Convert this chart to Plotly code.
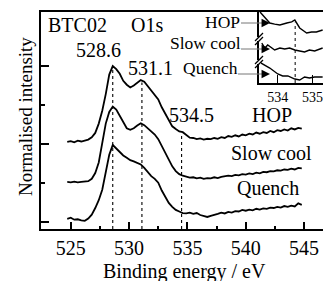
import plotly.graph_objects as go
import numpy as np

# ---------------- data ----------------
energy = [524.7, 525.0, 525.3, 525.6, 525.9, 526.2, 526.5, 526.8, 527.1, 527.4,
          527.7, 528.0, 528.3, 528.6, 528.9, 529.2, 529.5, 529.8, 530.1, 530.4,
          530.7, 531.0, 531.3, 531.6, 531.9, 532.2, 532.5, 532.8, 533.1, 533.4,
          533.7, 534.0, 534.3, 534.6, 534.9, 535.2, 535.5, 535.8, 536.1, 536.4,
          536.7, 537.0, 537.3, 537.6, 537.9, 538.2, 538.5, 538.8, 539.1, 539.4,
          539.7, 540.0, 540.3, 540.6, 540.9, 541.2, 541.5, 541.8, 542.1, 542.4,
          542.7, 543.0, 543.3, 543.6, 543.9, 544.2, 544.5, 544.8]

hop = [2.05, 2.07, 2.04, 2.08, 2.06, 2.09, 2.11, 2.17, 2.28, 2.52,
       2.85, 3.28, 3.78, 4.00, 3.92, 3.80, 3.62, 3.52, 3.45, 3.50,
       3.58, 3.64, 3.60, 3.48, 3.38, 3.25, 3.14, 2.94, 2.78, 2.60,
       2.45, 2.38, 2.32, 2.30, 2.22, 2.16, 2.15, 2.12, 2.14, 2.11,
       2.13, 2.12, 2.15, 2.13, 2.17, 2.15, 2.20, 2.18, 2.22, 2.19,
       2.24, 2.22, 2.26, 2.24, 2.29, 2.26, 2.30, 2.28, 2.33, 2.30,
       2.35, 2.33, 2.37, 2.34, 2.40, 2.37, 2.41, 2.39]

slow_cool = [1.02, 1.01, 1.03, 1.01, 1.02, 1.03, 1.04, 1.10, 1.25, 1.52,
             2.05, 2.52, 2.82, 2.96, 2.88, 2.72, 2.55, 2.40, 2.36, 2.40,
             2.47, 2.53, 2.48, 2.40, 2.33, 2.24, 2.12, 1.95, 1.78, 1.58,
             1.42, 1.30, 1.22, 1.18, 1.15, 1.13, 1.14, 1.11, 1.13, 1.10,
             1.12, 1.11, 1.14, 1.12, 1.15, 1.16, 1.18, 1.17, 1.20, 1.19,
             1.22, 1.21, 1.24, 1.22, 1.26, 1.24, 1.28, 1.27, 1.30, 1.29,
             1.32, 1.31, 1.34, 1.33, 1.36, 1.34, 1.38, 1.37]

quench = [0.07, 0.10, 0.05, 0.06, 0.03, 0.02, 0.08, 0.18, 0.35, 0.55,
          0.82, 1.30, 1.72, 1.97, 1.88, 1.78, 1.70, 1.64, 1.58, 1.55,
          1.52, 1.47, 1.38, 1.26, 1.17, 1.10, 1.00, 0.80, 0.62, 0.48,
          0.38, 0.30, 0.26, 0.22, 0.21, 0.23, 0.20, 0.22, 0.17, 0.15,
          0.12, 0.15, 0.17, 0.20, 0.23, 0.21, 0.25, 0.23, 0.27, 0.26,
          0.30, 0.28, 0.31, 0.29, 0.33, 0.31, 0.34, 0.33, 0.36, 0.35,
          0.38, 0.36, 0.40, 0.38, 0.41, 0.39, 0.47, 0.43]

peak_positions = [528.6, 531.1, 534.5]
peak_labels = ["528.6", "531.1", "534.5"]
x_tick_vals = [525, 530, 535, 540, 545]
x_tick_labels = ["525", "530", "535", "540", "545"]
series_names = ["HOP", "Slow cool", "Quench"]

# inset (zoom of 533.5 - 535.3 eV)
inset_hop_e = [533.49, 533.63, 533.77, 533.91, 534.06, 534.26, 534.40, 534.49, 534.63, 534.83, 534.97, 535.11, 535.29]
inset_hop_y = [1.00, 0.915, 0.845, 0.83, 0.817, 0.845, 0.86, 0.887, 0.775, 0.704, 0.718, 0.718, 0.746]
inset_slow_e = [533.54, 533.63, 533.71, 533.80, 533.91, 534.06, 534.20, 534.34, 534.49, 534.63, 534.77, 534.91, 535.06, 535.29]
inset_slow_y = [0.563, 0.493, 0.535, 0.507, 0.465, 0.493, 0.479, 0.493, 0.465, 0.451, 0.437, 0.465, 0.451, 0.493]
inset_quench_e = [533.46, 533.63, 533.77, 534.00, 534.14, 534.29, 534.49, 534.63, 534.77, 534.91, 535.06, 535.29]
inset_quench_y = [0.296, 0.254, 0.211, 0.127, 0.099, 0.099, 0.056, 0.042, 0.085, 0.070, 0.085, 0.085]
inset_tick_vals = [534, 535]
inset_marker = 534.5

# ---------------- layout helpers (pixel -> paper) ----------------
L, R, T, B = 41, 323, 12, 229
W, H = 323, 281
def px(x):
    return (x - L) / (R - L)
def py(y):
    return (B - y) / (B - T)

FONT = "Liberation Serif"
fig = go.Figure()

line_style = dict(color="black", width=1.8)
for ys in (hop, slow_cool, quench):
    fig.add_trace(go.Scatter(x=energy, y=ys, mode="lines", line=line_style,
                             showlegend=False, hoverinfo="skip"))

# dotted peak markers (from HOP curve down to the axis)
for p in peak_positions:
    top = float(np.interp(p, energy, hop)) - 0.05
    fig.add_trace(go.Scatter(x=[p, p], y=[-0.19, top], mode="lines",
                             line=dict(color="black", width=1.1, dash="dot"),
                             showlegend=False, hoverinfo="skip"))

# inset traces
for e, v in ((inset_hop_e, inset_hop_y), (inset_slow_e, inset_slow_y), (inset_quench_e, inset_quench_y)):
    fig.add_trace(go.Scatter(x=e, y=v, mode="lines", line=dict(color="black", width=1.4),
                             xaxis="x2", yaxis="y2", showlegend=False, hoverinfo="skip"))
fig.add_trace(go.Scatter(x=[inset_marker, inset_marker], y=[0, 0.85], mode="lines",
                         line=dict(color="black", width=1, dash="dot"),
                         xaxis="x2", yaxis="y2", showlegend=False, hoverinfo="skip"))

fig.update_layout(
    width=W, height=H,
    margin=dict(l=L, r=W - R, t=T, b=H - B, autoexpand=False),
    plot_bgcolor="white", paper_bgcolor="white",
    font=dict(family=FONT, size=20, color="black"),
    xaxis=dict(range=[522.45, 546.62], showline=True, linecolor="black", linewidth=2,
               mirror=True, showgrid=False, zeroline=False, automargin=False,
               ticks="inside", ticklen=7, tickwidth=1.5, tickcolor="black",
               tickvals=x_tick_vals, ticktext=x_tick_labels,
               tickfont=dict(family=FONT, size=20), ticklabeloverflow="allow",
               minor=dict(tickvals=[527.5, 532.5, 537.5, 542.5], ticklen=3,
                          tickwidth=1.5, tickcolor="black", ticks="inside")),
    yaxis=dict(range=[-0.19, 5.39], showline=True, linecolor="black", linewidth=2,
               showgrid=False, zeroline=False, showticklabels=False, automargin=False,
               ticks="inside", ticklen=8, tickwidth=1.5, tickcolor="black",
               tickvals=[0, 2, 4],
               minor=dict(tickvals=[1, 3], ticklen=4, tickwidth=1.5,
                          tickcolor="black", ticks="inside")),
    xaxis2=dict(domain=[px(259), 1.0], anchor="y2", range=[533.46, 535.3],
                showline=True, linecolor="black", linewidth=1.5, showgrid=False,
                zeroline=False, ticks="inside", ticklen=8, tickwidth=1.2, automargin=False,
                tickcolor="black", tickvals=inset_tick_vals, ticklabeloverflow="allow",
                tickfont=dict(family=FONT, size=14)),
    yaxis2=dict(domain=[py(83), 1.0], anchor="x2", range=[0, 1], automargin=False,
                showline=True, linecolor="black", linewidth=1.5, showgrid=False,
                zeroline=False, showticklabels=False, ticks=""),
)

ann = []
def text(x, y, s, size=20, **kw):
    ann.append(dict(x=px(x), y=py(y), xref="paper", yref="paper", text=s,
                    showarrow=False, xanchor="center", yanchor="middle",
                    font=dict(family=FONT, size=size, color="black"), **kw))

text(77, 25, "BTC02")
text(147, 25, "O1s")
text(98, 50, peak_labels[0])
text(150, 68, peak_labels[1])
text(191, 115, peak_labels[2])
text(272, 115, series_names[0])
text(271, 153, series_names[1])
text(268, 188, series_names[2])
text(184, 271, "Binding energy / eV")
text(25, 117, "Normalised intensity", size=19, textangle=-90)

# inset labels with arrows
inset_label_pos = [(222, 22, 241, 23), (205, 43, 241, 49), (210, 68, 238, 74)]
shapes = []
for name, (tx, ty, lx, ly) in zip(series_names, inset_label_pos):
    text(tx, ty, name, size=17.5)
    shapes.append(dict(type="line", xref="paper", yref="paper",
                       x0=px(lx), y0=py(ly), x1=px(266), y1=py(ly),
                       line=dict(color="#777777", width=1)))
    ann.append(dict(x=px(270), y=py(ly), xref="paper", yref="paper", text="",
                    showarrow=True, ax=-9, ay=0, arrowhead=2, arrowsize=1.3,
                    arrowwidth=1.3, arrowcolor="black"))

# axis break marks on the inset's left axis
for by in (39, 62):
    shapes.append(dict(type="rect", xref="paper", yref="paper",
                       x0=px(257), x1=px(261), y0=py(by + 2), y1=py(by - 2),
                       fillcolor="white", line=dict(width=0)))
    for off in (-2, 2):
        shapes.append(dict(type="line", xref="paper", yref="paper",
                           x0=px(255), y0=py(by + 4 + off), x1=px(263), y1=py(by - 4 + off),
                           line=dict(color="black", width=1.2)))

fig.update_layout(annotations=ann, shapes=shapes)
fig.write_html("out.html", config={"displayModeBar": False},
               post_script="document.body.style.margin='0';")
